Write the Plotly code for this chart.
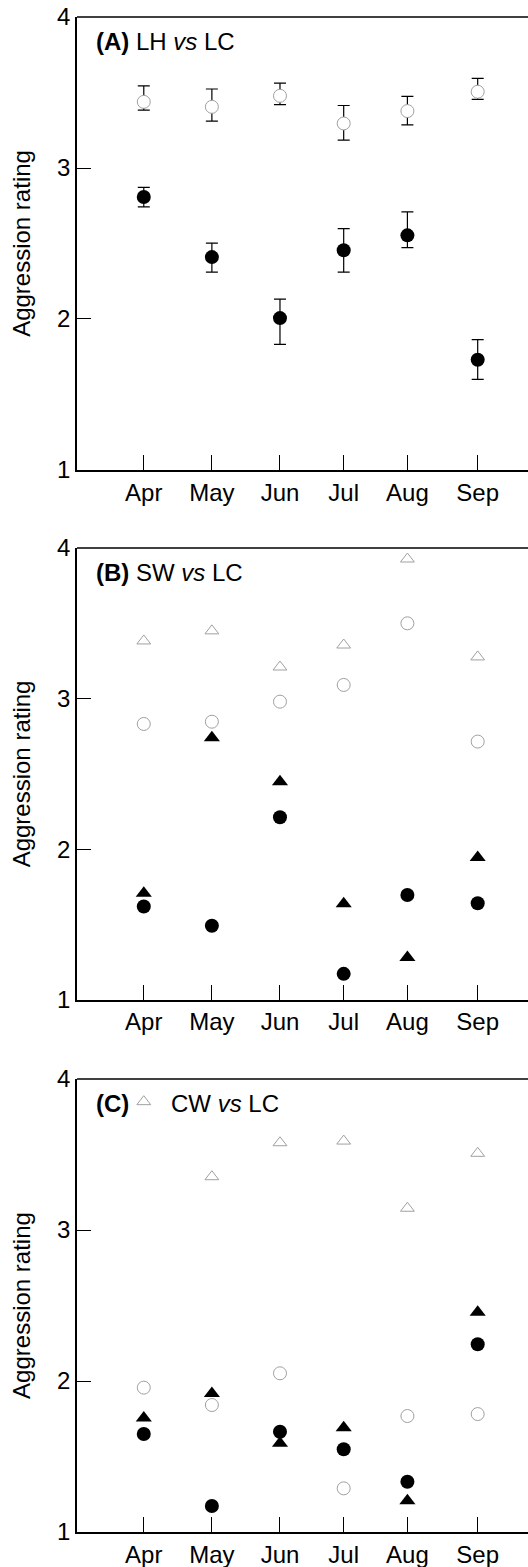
import plotly.graph_objects as go

# sampling positions (day of year) and month labels
sample_day = [105, 136, 167, 196, 225, 257]
months = ["Apr", "May", "Jun", "Jul", "Aug", "Sep"]

# Panel A: LH vs LC (means with error bars)
a_open = [3.438, 3.405, 3.478, 3.295, 3.377, 3.505]
a_open_hi = [3.544, 3.523, 3.562, 3.414, 3.474, 3.593]
a_open_lo = [3.383, 3.310, 3.420, 3.184, 3.286, 3.454]
a_fill = [2.808, 2.410, 2.006, 2.455, 2.554, 1.730]
a_fill_hi = [2.871, 2.503, 2.132, 2.599, 2.709, 1.863]
a_fill_lo = [2.742, 2.310, 1.832, 2.311, 2.473, 1.600]

# Panel B: SW vs LC
b_open_tri = [3.383, 3.450, 3.210, 3.356, 3.927, 3.277]
b_open_circ = [2.832, 2.847, 2.980, 3.091, 3.500, 2.715]
b_fill_tri = [1.709, 2.741, 2.449, 1.638, 1.281, 1.945]
b_fill_circ = [1.620, 1.492, 2.213, 1.173, 1.697, 1.642]

# Panel C: CW vs LC
c_open_tri = [3.850, 3.353, 3.578, 3.589, 3.144, 3.508]
c_open_circ = [1.956, 1.841, 2.051, 1.289, 1.768, 1.781]
c_fill_tri = [1.755, 1.918, 1.587, 1.690, 1.207, 2.455]
c_fill_circ = [1.649, 1.172, 1.664, 1.548, 1.333, 2.243]

y_ticks = [1, 2, 3, 4]

FONT = "Liberation Sans, Arial, Helvetica, sans-serif"
GRAY = "#a0a0a0"

fig = go.Figure()


def diff(a, b):
    return [round(x - y, 4) for x, y in zip(a, b)]


# Panel A
fig.add_trace(go.Scatter(
    x=sample_day, y=a_open, mode="markers", xaxis="x", yaxis="y",
    marker=dict(symbol="circle", size=13, color="white", line=dict(color=GRAY, width=1)),
    error_y=dict(type="data", symmetric=False, array=diff(a_open_hi, a_open),
                 arrayminus=diff(a_open, a_open_lo), color="black", thickness=1.2, width=6),
    showlegend=False))
fig.add_trace(go.Scatter(
    x=sample_day, y=a_fill, mode="markers", xaxis="x", yaxis="y",
    marker=dict(symbol="circle", size=14, color="black"),
    error_y=dict(type="data", symmetric=False, array=diff(a_fill_hi, a_fill),
                 arrayminus=diff(a_fill, a_fill_lo), color="black", thickness=1.2, width=6),
    showlegend=False))


def add_panel(xa, ya, otri, ocirc, ftri, fcirc):
    fig.add_trace(go.Scatter(x=sample_day, y=otri, mode="markers", xaxis=xa, yaxis=ya,
                             marker=dict(symbol="triangle-up-open", size=12, color=GRAY,
                                         line=dict(color=GRAY, width=1)), showlegend=False))
    fig.add_trace(go.Scatter(x=sample_day, y=ocirc, mode="markers", xaxis=xa, yaxis=ya,
                             marker=dict(symbol="circle-open", size=13, color=GRAY,
                                         line=dict(color=GRAY, width=1)), showlegend=False))
    fig.add_trace(go.Scatter(x=sample_day, y=ftri, mode="markers", xaxis=xa, yaxis=ya,
                             marker=dict(symbol="triangle-up", size=14, color="black"),
                             showlegend=False))
    fig.add_trace(go.Scatter(x=sample_day, y=fcirc, mode="markers", xaxis=xa, yaxis=ya,
                             marker=dict(symbol="circle", size=14, color="black"),
                             showlegend=False))


add_panel("x2", "y2", b_open_tri, b_open_circ, b_fill_tri, b_fill_circ)
add_panel("x3", "y3", c_open_tri, c_open_circ, c_fill_tri, c_fill_circ)

xcommon = dict(range=[74.6, 279.9], tickmode="array", tickvals=sample_day, ticktext=months,
               ticks="inside", ticklen=15, tickwidth=1, tickcolor="black",
               showline=True, linecolor="black", linewidth=1.5, showgrid=False,
               zeroline=False, tickfont=dict(family=FONT, size=24, color="black"))
ycommon = dict(range=[1, 4], tickmode="array", tickvals=y_ticks,
               ticks="inside", ticklen=14, tickwidth=1, tickcolor="black",
               showline=True, linecolor="black", linewidth=1.5, showgrid=False,
               zeroline=False, tickfont=dict(family=FONT, size=24, color="black"),
               title=dict(text="Aggression rating", font=dict(family=FONT, size=24, color="black"),
                          standoff=20))

domains = [[0.701, 1.0], [0.3512, 0.6495], [0.0, 0.299]]

fig.update_layout(
    width=528, height=1567,
    margin=dict(l=77, r=0, t=17, b=35),
    paper_bgcolor="white", plot_bgcolor="white",
    xaxis=dict(xcommon, anchor="y"),
    yaxis=dict(ycommon, anchor="x", domain=domains[0]),
    xaxis2=dict(xcommon, anchor="y2"),
    yaxis2=dict(ycommon, anchor="x2", domain=domains[1]),
    xaxis3=dict(xcommon, anchor="y3"),
    yaxis3=dict(ycommon, anchor="x3", domain=domains[2]),
    showlegend=False,
)

# top borders of each panel
for xr, yr in [("x", "y"), ("x2", "y2"), ("x3", "y3")]:
    fig.add_shape(type="line", xref=f"{xr} domain", yref=f"{yr} domain",
                  x0=0, x1=1, y0=1, y1=1, line=dict(color="black", width=1.5))

# panel labels
labels = [("x", "y", "<b>(A)</b> LH <i>vs</i> LC", 0.038),
          ("x2", "y2", "<b>(B)</b> SW <i>vs</i> LC", 0.038),
          ("x3", "y3", "<b>(C)</b>", 0.038)]
for xr, yr, txt, xp in labels:
    fig.add_annotation(xref=f"{xr} domain", yref=f"{yr} domain", x=xp, y=0.945,
                       xanchor="left", yanchor="middle", text=txt, showarrow=False,
                       font=dict(family=FONT, size=24, color="black"))
fig.add_annotation(xref="x3 domain", yref="y3 domain", x=0.204, y=0.945,
                   xanchor="left", yanchor="middle", text="CW <i>vs</i> LC", showarrow=False,
                   font=dict(family=FONT, size=24, color="black"))

fig.write_html("out.html", config={"displayModeBar": False},
               post_script="document.body.style.margin='0';document.body.style.overflow='hidden';")
